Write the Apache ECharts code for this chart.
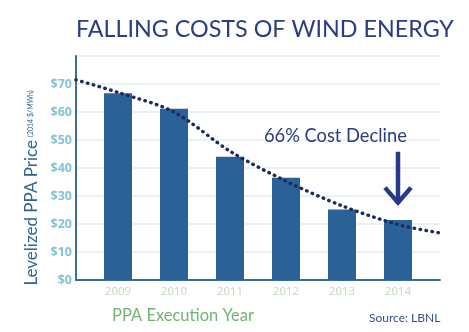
<!DOCTYPE html>
<html><head><meta charset="utf-8">
<script src="https://cdn.jsdelivr.net/npm/echarts@6/dist/echarts.min.js"></script>
<style>html,body{margin:0;padding:0;background:#fff}#c{width:469px;height:332px}</style>
</head><body><div id="c"></div>
<script>
var years = ['2009','2010','2011','2012','2013','2014'];
var prices = [66.7, 61.2, 44.0, 36.5, 25.2, 21.4];
var trendX = [-0.75, 0, 1, 2, 3, 4, 5, 5.75];
var trendY = [71.5, 67.0, 60.0, 46.0, 35.3, 26.5, 19.8, 16.8];
var arrowFrom = 45.8, arrowTo = 26.2, arrowAt = 5;
var yTicks = [0, 10, 20, 30, 40, 50, 60, 70, 80];

var chart = echarts.init(document.getElementById('c'));
var F = 'Lato';
var N = 'Open Sans';
chart.setOption({
  animation: false,
  textStyle: {fontFamily: F},
  title: [
    {text: 'FALLING COSTS OF WIND ENERGY', left: 71, top: 13,
     textStyle: {fontFamily: F, fontSize: 23.3, fontWeight: 'normal', color: '#2b3c82'}},
    {text: 'PPA Execution Year', left: 107, top: 302,
     textStyle: {fontFamily: F, fontSize: 16.5, fontWeight: 'normal', color: '#72b572'}},
    {text: 'Source: LBNL', left: 364, top: 307,
     textStyle: {fontFamily: F, fontSize: 12, fontWeight: 'normal', color: '#33508a'}},
    {text: '66% Cost Decline', left: 259, top: 122,
     textStyle: {fontFamily: F, fontSize: 18.3, fontWeight: 'normal', color: '#2b3c82'}}
  ],
  grid: {left: 76, right: 29, top: 56, bottom: 52},
  xAxis: {
    type: 'value', min: -0.75, max: 5.75, interval: 0.25,
    axisLine: {show: true, onZero: false, lineStyle: {color: '#3e6d96', width: 2}},
    axisTick: {show: false},
    splitLine: {show: false},
    axisLabel: {formatter: function(v){
        var r = Math.round(v);
        return (Math.abs(v - r) < 1e-6 && r >= 0 && r < years.length) ? '{y|' + years[r] + '}' : '';
      },
      margin: 6, showMinLabel: false, showMaxLabel: false,
      rich: {y: {color: '#c2d9be', fontSize: 11.5, fontWeight: 'normal', fontFamily: N}}}
  },
  yAxis: {
    type: 'value', min: yTicks[0], max: yTicks[yTicks.length-1], interval: 10,
    axisLine: {show: true, onZero: false, lineStyle: {color: '#3e6d96', width: 2}},
    axisTick: {show: false},
    splitLine: {show: true, lineStyle: {color: '#e3ecf1', width: 1.5}},
    axisLabel: {formatter: function(v){ return v >= 80 ? '' : '$' + v; },
      color: '#86c3d3', fontSize: 12.5, fontWeight: 'bold', margin: 4, fontFamily: N},
    name: '{a|Levelized PPA Price} {b|(2014 $/MWh)}',
    nameLocation: 'middle', nameRotate: 90, nameGap: 35,
    nameTextStyle: {padding: [0, 40, 0, 0],
      rich: {a: {fontFamily: F, fontSize: 17, color: '#2f6494'},
             b: {fontFamily: F, fontSize: 7, color: '#2f6494'}}}
  },
  series: [
    {type: 'bar', data: prices.map(function(v,i){return [i, v];}), barWidth: 28,
     itemStyle: {color: '#2a6298'}, z: 2},
    {type: 'line', data: trendX.map(function(x,i){return [x, trendY[i]];}),
     smooth: 0.3, symbol: 'none', z: 5,
     lineStyle: {color: '#1e2a5e', width: 3.4, type: [0.5, 5.5], cap: 'round'}},
    {type: 'custom', z: 6,
     data: [[arrowAt, arrowFrom, arrowTo]],
     renderItem: function(params, api){
       var top = api.coord([api.value(0), api.value(1)]);
       var bot = api.coord([api.value(0), api.value(2)]);
       var s = {stroke: '#27398a', lineWidth: 4.5, fill: null};
       return {type: 'group', children: [
         {type: 'line', shape: {x1: top[0], y1: top[1], x2: bot[0], y2: bot[1]-3}, style: s},
         {type: 'polyline', shape: {points: [[bot[0]-13, bot[1]-19],[bot[0], bot[1]-4],[bot[0]+13, bot[1]-19]]}, style: s}
       ]};
     }}
  ]
});
</script></body></html>
